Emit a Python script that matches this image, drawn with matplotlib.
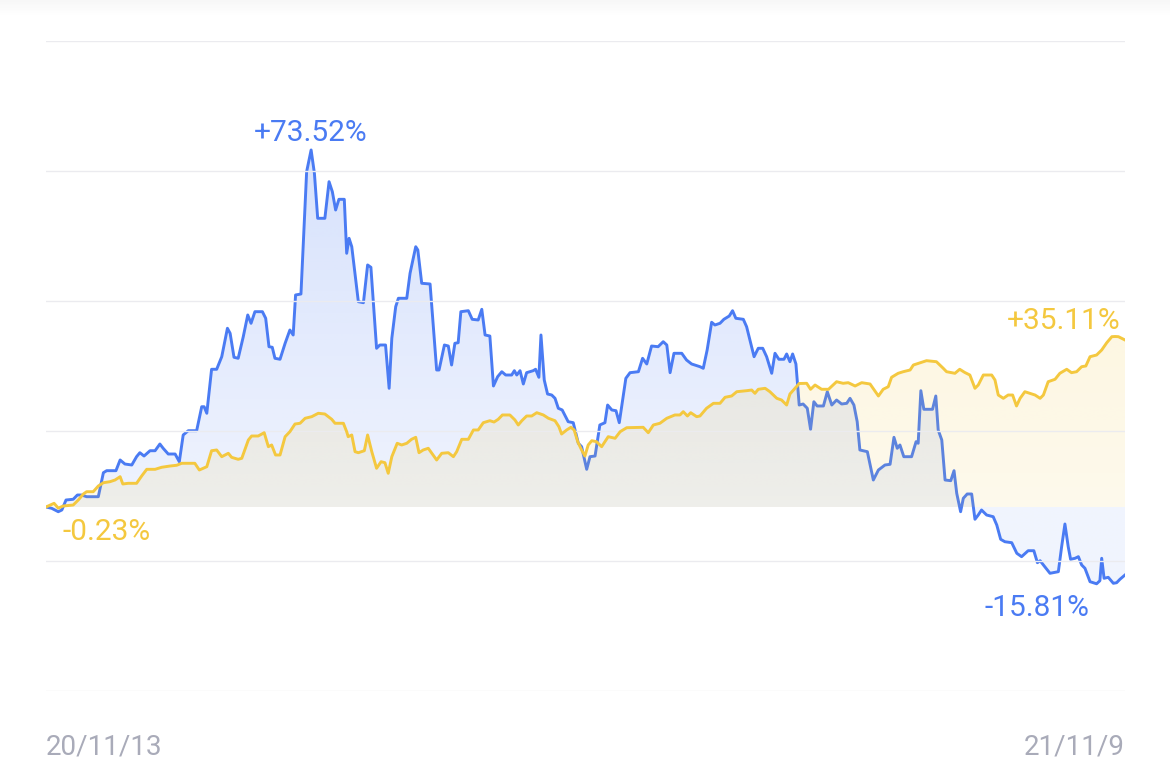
import numpy as np
import matplotlib
matplotlib.use("Agg")
import matplotlib.pyplot as plt

# ---------------------------------------
# data: cumulative return (%) by calendar day since 20/11/13
# ---------------------------------------
start_label = "20/11/13"
end_label = "21/11/9"

blue_day = [0, 1.9, 4.1, 5.3, 6.7, 9.1, 10.5, 11.9, 13.6, 17.5,
            19.2, 20.3, 23.4, 24.8, 26.4, 28.7, 30.3, 31.4, 32.8, 34.8,
            36.5, 38.1, 39.2, 40.9, 43.2, 44.6, 45.9, 47.6, 50.4, 52.1,
            52.9, 53.8, 55.4, 57.1, 58.8, 60.7, 61.6, 62.9, 64.3, 66.0,
            67.5, 68.6, 69.9, 72.4, 73.5, 74.6, 75.7, 76.6, 78.3, 80.0,
            81.6, 82.7, 83.5, 85.3, 87.2, 88.7, 89.8, 90.9, 93.3, 94.7,
            95.8, 96.9, 98.0, 99.8, 100.6, 101.4, 102.3, 104.5, 106.2, 107.6,
            108.7, 110.6, 111.7, 113.6, 114.8, 115.7, 117.0, 117.9, 120.7, 121.8,
            123.7, 124.4, 125.7, 128.5, 130.7, 131.5, 133.3, 134.6, 135.7, 136.8,
            137.9, 138.8, 141.3, 142.6, 144.6, 145.8, 146.9, 148.5, 149.7, 151.1,
            152.5, 153.8, 155.8, 156.7, 157.5, 158.6, 159.7, 160.8, 163.0, 163.8,
            164.9, 165.6, 166.7, 167.8, 169.2, 170.3, 171.4, 172.7, 174.7, 176.4,
            178.1, 179.2, 180.9, 182.0, 183.7, 185.3, 187.0, 187.9, 189.3, 190.7,
            191.8, 194.0, 195.4, 198.2, 199.6, 201.0, 202.6, 204.8, 206.5, 207.7,
            208.8, 210.1, 212.7, 214.3, 216.0, 218.8, 219.9, 221.2, 222.7, 223.8,
            225.5, 226.8, 228.6, 229.7, 230.8, 233.3, 234.4, 236.9, 238.3, 239.8,
            241.1, 242.8, 243.9, 245.2, 246.9, 247.8, 248.9, 249.8, 250.9, 252.0,
            253.3, 254.7, 255.8, 256.9, 258.0, 260.1, 261.4, 262.9, 264.5, 266.2,
            267.9, 269.0, 270.3, 271.4, 272.3, 274.8, 276.8, 278.5, 280.7, 282.4,
            283.7, 284.8, 285.7, 287.0, 289.6, 291.1, 291.8, 292.7, 293.7, 296.6,
            297.7, 298.5, 299.7, 300.8, 302.7, 303.8, 304.7, 306.0, 306.9, 308.2,
            309.7, 310.8, 311.9, 313.0, 314.7, 316.9, 318.1, 319.4, 320.8, 323.1,
            324.8, 326.4, 328.6, 330.5, 331.7, 332.6, 333.7, 335.9, 338.7, 339.8,
            340.9, 342.0, 342.8, 344.3, 345.4, 346.5, 347.6, 349.3, 351.5, 352.6,
            353.2, 354.0, 355.4, 357.1, 358.2, 359.3, 361]
blue_pct = [0.0, -0.27, -0.97, -0.62, 1.44, 1.59, 2.47, 2.47, 2.12, 2.12,
            7.06, 7.48, 7.48, 9.68, 8.85, 8.65, 10.36, 11.18, 10.50, 11.59,
            11.59, 12.97, 12.09, 10.91, 10.91, 9.33, 14.83, 15.71, 15.71, 20.65,
            20.65, 19.30, 28.36, 28.36, 30.95, 36.80, 35.77, 30.83, 30.62, 35.07,
            39.54, 37.83, 40.22, 40.22, 38.86, 33.01, 32.89, 30.62, 30.42, 33.71,
            36.45, 35.42, 43.66, 43.86, 69.05, 73.52, 68.72, 59.45, 59.45, 66.99,
            64.93, 61.16, 63.36, 63.36, 52.24, 55.33, 53.60, 42.28, 42.07, 49.84,
            49.36, 32.68, 33.36, 33.36, 24.44, 34.74, 41.25, 42.98, 42.98, 48.13,
            53.60, 52.92, 46.07, 45.92, 28.21, 28.21, 33.36, 33.15, 29.24, 33.71,
            33.83, 40.22, 40.42, 38.65, 38.51, 40.71, 35.42, 35.21, 24.92, 26.83,
            27.86, 27.18, 27.18, 28.07, 27.18, 28.07, 25.33, 27.66, 28.07, 28.36,
            26.71, 35.42, 26.15, 23.27, 23.06, 22.38, 20.33, 19.98, 17.57, 17.36,
            13.12, 12.42, 7.76, 10.36, 10.50, 16.89, 17.36, 21.00, 19.98, 19.83,
            17.36, 26.50, 27.66, 27.86, 30.62, 29.45, 33.15, 33.01, 34.04, 33.36,
            27.66, 31.65, 31.65, 30.27, 29.45, 28.89, 28.56, 32.33, 38.04, 37.48,
            37.83, 38.65, 39.33, 40.42, 38.86, 38.65, 37.13, 30.95, 32.68, 32.68,
            30.95, 27.53, 31.65, 30.42, 30.42, 31.51, 29.92, 31.51, 29.45, 21.00,
            21.21, 20.33, 16.00, 21.68, 20.80, 20.80, 23.74, 21.00, 22.03, 21.21,
            21.35, 22.38, 21.00, 17.57, 11.74, 11.39, 5.56, 7.62, 8.65, 8.79,
            14.35, 12.09, 12.77, 10.36, 10.36, 13.45, 13.12, 23.95, 20.12, 20.12,
            22.86, 15.86, 13.80, 5.56, 5.42, 7.48, 2.82, -0.97, 1.79, 2.68,
            2.68, -2.53, -1.65, -0.62, -1.65, -2.00, -3.71, -6.65, -7.15, -7.35,
            -9.53, -10.23, -9.00, -9.00, -11.47, -11.06, -11.94, -13.65, -13.32, -8.18,
            -3.50, -8.18, -10.77, -10.56, -10.23, -11.94, -12.62, -15.38, -15.81, -15.18,
            -10.56, -14.68, -14.48, -15.71, -15.59, -14.89, -14.00]

yellow_day = [0, 2.7, 4.1, 5.8, 9.1, 10.8, 12.5, 13.6, 15.8, 17.5,
              19.2, 21.4, 23.1, 24.8, 25.7, 27.5, 30.3, 32.0, 33.7, 36.5,
              38.7, 41.5, 43.7, 45.4, 49.8, 51.3, 52.6, 53.8, 55.4, 57.1,
              58.8, 61.0, 62.1, 64.3, 65.5, 67.7, 68.8, 71.0, 73.0, 74.4,
              75.5, 76.8, 78.3, 80.0, 81.6, 83.3, 85.0, 86.7, 88.9, 91.1,
              93.3, 95.6, 96.7, 99.5, 100.6, 101.1, 102.3, 103.4, 104.5, 106.5,
              107.6, 109.0, 110.6, 112.1, 113.4, 114.5, 115.7, 117.5, 119.0, 120.7,
              122.3, 123.7, 124.8, 126.2, 127.9, 130.7, 132.4, 134.6, 136.3, 137.4,
              139.1, 141.3, 143.0, 144.6, 146.3, 148.5, 149.9, 151.3, 152.7, 155.2,
              156.9, 158.0, 159.2, 160.8, 162.5, 164.2, 166.4, 168.1, 170.3, 171.6,
              172.5, 174.2, 175.6, 176.7, 177.9, 179.2, 180.3, 181.4, 182.6, 184.2,
              185.9, 188.1, 190.4, 192.1, 194.3, 199.8, 201.5, 203.2, 205.4, 207.7,
              210.4, 212.1, 213.2, 214.6, 215.7, 217.7, 218.8, 221.0, 223.3, 225.5,
              227.2, 229.4, 231.1, 234.4, 236.1, 237.2, 238.3, 240.6, 242.2, 244.5,
              246.1, 247.8, 248.9, 250.6, 252.0, 254.5, 255.8, 257.3, 259.5, 261.8,
              264.5, 266.7, 268.4, 270.7, 272.9, 275.7, 278.5, 280.1, 281.8, 282.9,
              285.1, 286.8, 289.1, 290.2, 292.9, 294.6, 297.9, 300.2, 301.3, 304.1,
              305.7, 307.4, 309.1, 310.8, 311.9, 313.6, 316.4, 317.5, 318.6, 320.3,
              321.9, 323.4, 324.7, 325.9, 327.5, 329.2, 330.9, 332.6, 333.7, 335.3,
              337.6, 339.2, 341.5, 343.1, 344.8, 346.5, 347.9, 349.3, 351.5, 353.2,
              354.9, 356.6, 357.7, 358.8, 361]
yellow_pct = [0.0, 0.76, -0.23, 0.21, 0.41, 1.44, 2.68, 3.15, 3.15, 4.32,
              5.00, 5.21, 5.56, 6.24, 4.74, 4.88, 4.88, 6.38, 7.76, 7.76,
              8.18, 8.44, 8.59, 9.00, 9.00, 7.62, 7.97, 8.30, 11.59, 11.74,
              10.36, 11.06, 10.23, 9.82, 10.03, 13.80, 14.62, 14.62, 15.30, 12.42,
              12.77, 10.71, 10.71, 14.48, 15.51, 17.09, 17.24, 18.27, 18.60, 19.30,
              19.15, 18.06, 17.24, 17.24, 15.51, 14.48, 14.83, 11.39, 11.18, 11.59,
              14.83, 11.39, 7.97, 9.33, 9.12, 6.94, 10.36, 13.12, 12.77, 13.12,
              13.94, 14.35, 11.18, 11.74, 12.09, 9.68, 11.06, 11.18, 10.36, 11.39,
              13.94, 13.94, 15.86, 15.86, 17.36, 17.77, 17.50, 18.06, 18.95, 18.95,
              17.92, 16.89, 17.77, 18.74, 18.74, 19.42, 18.95, 18.27, 17.77, 16.54,
              15.03, 15.86, 16.41, 15.86, 13.45, 11.74, 10.50, 12.77, 13.65, 13.45,
              12.42, 14.48, 14.15, 15.51, 16.33, 16.41, 15.30, 16.89, 17.24, 18.27,
              18.95, 18.95, 19.63, 18.74, 19.42, 18.60, 18.74, 20.33, 21.35, 21.35,
              22.59, 22.86, 23.74, 23.95, 24.09, 23.41, 24.24, 24.44, 23.74, 22.38,
              22.03, 21.00, 23.27, 24.44, 25.43, 25.47, 24.24, 25.12, 24.24, 24.24,
              25.80, 25.47, 25.60, 24.92, 25.60, 25.33, 22.86, 24.24, 24.77, 26.71,
              27.53, 27.86, 28.21, 29.24, 29.80, 30.13, 29.92, 28.56, 27.86, 27.53,
              28.36, 27.70, 27.18, 24.44, 25.12, 27.18, 27.18, 26.15, 23.06, 22.38,
              23.06, 23.06, 20.80, 22.38, 23.74, 23.41, 23.06, 22.38, 23.06, 25.80,
              26.30, 27.53, 28.36, 27.66, 27.86, 28.89, 29.04, 30.95, 31.30, 32.33,
              33.83, 35.07, 35.11, 35.07, 34.39]

BLUE = "#4a7bf3"
YELLOW = "#f4c83f"
GREY = "#a9abb9"

Y_TOP, Y_BOT = 95.96, -37.89
X0, X1 = 0, 361
W, H = 1170, 776

fig = plt.figure(figsize=(W / 100, H / 100), dpi=100)
fig.patch.set_facecolor("white")

# faint shadow at the very top
sh = fig.add_axes([0, 1 - 16 / H, 1, 16 / H])
shade = np.zeros((16, 2, 4))
shade[..., :3] = 0.55
shade[..., 3] = np.linspace(0.07, 0.0, 16)[:, None]
sh.imshow(shade, aspect="auto", extent=[0, 1, 0, 1])
sh.axis("off")

ax = fig.add_axes([46 / W, 85 / H, 1079 / W, 650 / H])


def grad_fill(x, y, color, a_hi, a_lo, a_neg, z):
    coll = ax.fill_between(x, y, 0, facecolor="none", edgecolor="none")
    rgb = matplotlib.colors.to_rgb(color)
    ys = np.linspace(Y_TOP, Y_BOT, 700)
    vmax = max(y)
    alpha = np.where(ys >= 0, a_lo + (a_hi - a_lo) * np.clip(ys / vmax, 0, 1), a_neg)
    img = np.zeros((len(ys), 2, 4))
    img[..., :3] = rgb
    img[..., 3] = alpha[:, None]
    im = ax.imshow(img, extent=[X0, X1, Y_BOT, Y_TOP], aspect="auto",
                   origin="upper", zorder=z, interpolation="bilinear")
    im.set_clip_path(coll.get_paths()[0], transform=ax.transData)


grad_fill(blue_day, blue_pct, BLUE, 0.22, 0.09, 0.08, 1)
ax.plot(blue_day, blue_pct, color=BLUE, lw=2.1, zorder=2, solid_joinstyle="round")
grad_fill(yellow_day, yellow_pct, YELLOW, 0.15, 0.10, 0.10, 2.2)
ax.plot(yellow_day, yellow_pct, color=YELLOW, lw=2.1, zorder=3, solid_joinstyle="round")

# grid
for g in np.linspace(Y_BOT, Y_TOP, 6):
    ax.axhline(g, color="#ebebef", lw=1.0, zorder=2.3)

ax.set_xlim(X0, X1)
ax.set_ylim(Y_BOT, Y_TOP)
for s in ax.spines.values():
    s.set_visible(False)
ax.set_xticks([])
ax.set_yticks([])
ax.set_facecolor("none")

# max / min labels
lab = dict(fontsize=21.5, family=["Roboto", "DejaVu Sans"], va="baseline",
           textcoords="offset pixels", zorder=5)
i = int(np.argmax(blue_pct))
ax.annotate(f"{blue_pct[i]:+.2f}%", (blue_day[i], blue_pct[i]), xytext=(0, 9),
            ha="center", color=BLUE, **lab)
i = int(np.argmin(blue_pct))
ax.annotate(f"{blue_pct[i]:+.2f}%", (blue_day[i], blue_pct[i]), xytext=(-7, -32),
            ha="right", color=BLUE, **lab)
i = int(np.argmax(yellow_pct))
ax.annotate(f"{yellow_pct[i]:+.2f}%", (yellow_day[i], yellow_pct[i]), xytext=(5, 7),
            ha="right", color=YELLOW, **lab)
i = int(np.argmin(yellow_pct))
ax.annotate(f"{yellow_pct[i]:+.2f}%", (yellow_day[i], yellow_pct[i]), xytext=(4, -32),
            ha="left", color=YELLOW, **lab)

# date labels
fig.text(46 / W, 1 - 754 / H, start_label, ha="left", va="baseline",
         color=GREY, fontsize=20, family="Roboto")
fig.text(1125 / W, 1 - 754 / H, end_label, ha="right", va="baseline",
         color=GREY, fontsize=20, family="Roboto")

fig.savefig("out.png", dpi=100)
